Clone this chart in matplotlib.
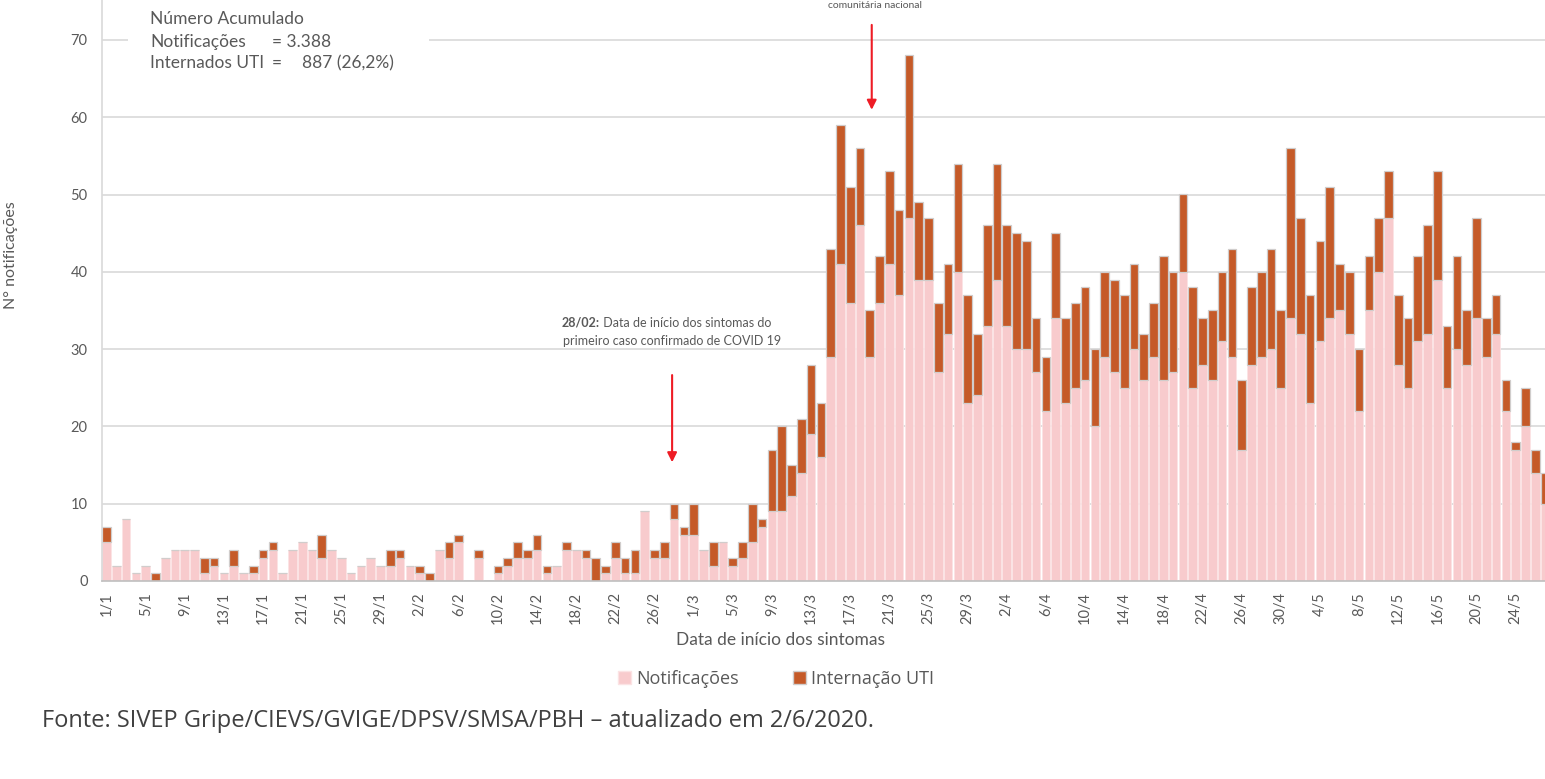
import matplotlib
matplotlib.use("Agg")
import matplotlib.pyplot as plt
from matplotlib.patches import Rectangle, Patch
import pandas as pd

# dates of symptom onset, 1/1 to 27/5/2020
days = pd.date_range("2020-01-01", "2020-05-27")
day_labels = [f"{d.day}/{d.month}" for d in days]

# notifications without ICU (pink part)
notificacoes = [
    # jan
    5, 2, 8, 1, 2, 0, 3, 4, 4, 4, 1, 2, 1, 2, 1, 1, 3, 4, 1, 4, 5, 4, 3, 4, 3, 1, 2, 3, 2, 2, 3,
    # fev
    2, 1, 0, 4, 3, 5, 0, 3, 0, 1, 2, 3, 3, 4, 1, 2, 4, 4, 3, 0, 1, 3, 1, 1, 9, 3, 3, 8, 6,
    # mar
    6, 4, 2, 5, 2, 3, 5, 7, 9, 9, 11, 14, 19, 16, 29, 41, 36, 46, 29, 36, 41, 37, 47, 39, 39, 27, 32, 40, 23, 24, 33,
    # abr
    39, 33, 30, 30, 27, 22, 34, 23, 25, 26, 20, 29, 27, 25, 30, 26, 29, 26, 27, 40, 25, 28, 26, 31, 29, 17, 28, 29, 30, 25,
    # mai
    34, 32, 23, 31, 34, 35, 32, 22, 35, 40, 47, 28, 25, 31, 32, 39, 25, 30, 28, 34, 29, 32, 22, 17, 20, 14, 10,
]

# ICU admissions (dark part)
internacao_uti = [
    # jan
    2, 0, 0, 0, 0, 1, 0, 0, 0, 0, 2, 1, 0, 2, 0, 1, 1, 1, 0, 0, 0, 0, 3, 0, 0, 0, 0, 0, 0, 2, 1,
    # fev
    0, 1, 1, 0, 2, 1, 0, 1, 0, 1, 1, 2, 1, 2, 1, 0, 1, 0, 1, 3, 1, 2, 2, 3, 0, 1, 2, 2, 1,
    # mar
    4, 0, 3, 0, 1, 2, 5, 1, 8, 11, 4, 7, 9, 7, 14, 18, 15, 10, 6, 6, 12, 11, 21, 10, 8, 9, 9, 14, 14, 8, 13,
    # abr
    15, 13, 15, 14, 7, 7, 11, 11, 11, 12, 10, 11, 12, 12, 11, 6, 7, 16, 13, 10, 13, 6, 9, 9, 14, 9, 10, 11, 13, 10,
    # mai
    22, 15, 14, 13, 17, 6, 8, 8, 7, 7, 6, 9, 9, 11, 14, 14, 8, 12, 7, 13, 5, 5, 4, 1, 5, 3, 4,
]

pink = "#f8cbcd"
dark = "#c55a28"
gray = "#595959"

W, H = 1545, 779
fig = plt.figure(figsize=(W / 100, H / 100), dpi=100)
ax = fig.add_axes([101.6 / W, (H - 581) / H, (W - 101.6) / W, 581 / H])

x = list(range(len(days)))
ax.bar(x, notificacoes, width=0.88, color=pink, edgecolor="#fbe3e4", linewidth=0.6, zorder=2)
ax.bar(x, internacao_uti, width=0.88, bottom=notificacoes, color=dark,
       edgecolor="#d0cdcc", linewidth=0.9, zorder=2)

ax.set_xlim(-0.5, 147.0)
ax.set_ylim(0, 581 / 7.73)
ax.set_yticks(range(0, 80, 10))
ax.set_xticks(x[::4])
ax.set_xticklabels(day_labels[::4], rotation=90)
ax.tick_params(length=0, colors=gray, labelsize=10.5, pad=8)
ax.tick_params(axis="y", labelsize=10.5, pad=10)
for lab in ax.get_xticklabels() + ax.get_yticklabels():
    lab.set_fontfamily("Lato")
ax.grid(axis="y", color="#d9d9d9", linewidth=1.2, zorder=0)
ax.set_axisbelow(True)
for s in ["top", "right"]:
    ax.spines[s].set_visible(False)
ax.spines["left"].set_color("#d9d9d9")
ax.spines["bottom"].set_color("#bfbfbf")
ax.spines["left"].set_linewidth(1.2)
ax.spines["bottom"].set_linewidth(1.2)

# white box behind cumulative numbers
ax.add_patch(Rectangle((2.2, 64.8), 30.8, 12, facecolor="white", edgecolor="none", zorder=1))

def px(xp, yp):
    return xp / W, 1 - yp / H

fs = 12.5
fig.text(*px(150, 19), "Número Acumulado", fontsize=fs, color=gray, family="Lato", va="center")
fig.text(*px(150, 42), "Notificações", fontsize=fs, color=gray, family="Lato", va="center")
fig.text(*px(272, 42), "= 3.388", fontsize=fs, color=gray, family="Lato", va="center")
fig.text(*px(150, 63), "Internados UTI", fontsize=fs, color=gray, family="Lato", va="center")
fig.text(*px(272, 63), "=", fontsize=fs, color=gray, family="Lato", va="center")
fig.text(*px(302, 63), "887 (26,2%)", fontsize=fs, color=gray, family="Lato", va="center")

# annotation: first confirmed case
t1 = ax.text(46.5, 32.9, "28/02:", ha="left", va="baseline", fontsize=9,
             color=gray, family="Lato", weight="bold")
ax.annotate(" Data de início dos sintomas do", xy=(1, 0), xycoords=t1, va="bottom",
            fontsize=9, color=gray, family="Lato")
ax.text(57.8, 31.1, "primeiro caso confirmado de COVID 19", ha="center", va="center",
        fontsize=9, color=gray, family="Lato")
ax.annotate("", xy=(57.8, 15.0), xytext=(57.8, 27.0),
            arrowprops=dict(arrowstyle="-|>", color="#ee1c25", lw=1.5, mutation_scale=14))

# annotation: community transmission (top line is cropped in the source)
fig.text(*px(875, 0.5), "comunitária nacional", ha="center", va="top", fontsize=7.5,
         color=gray, family="Lato")
ax.annotate("", xy=(78.2, 60.6), xytext=(78.2, 72.3),
            arrowprops=dict(arrowstyle="-|>", color="#ee1c25", lw=1.5, mutation_scale=14))

fig.text(*px(780, 640), "Data de início dos sintomas", ha="center", va="center",
         fontsize=12.5, color=gray, family="Lato")
fig.text(*px(11, 255), "N° notificações", ha="center", va="center", rotation=90,
         fontsize=11.5, color=gray, family="Lato")

handles = [Patch(facecolor=pink, edgecolor="#fbe3e4", label="Notificações"),
           Patch(facecolor=dark, edgecolor="#d0cdcc", label="Internação UTI")]
fig.legend(handles=handles, loc="center", bbox_to_anchor=(776 / W, 1 - 679 / H), ncol=2,
           frameon=False, prop={"family": "Open Sans", "size": 13}, labelcolor=gray,
           handlelength=0.7, handleheight=0.7, handletextpad=0.3, columnspacing=3.0)

fig.text(*px(42, 721), "Fonte: SIVEP Gripe/CIEVS/GVIGE/DPSV/SMSA/PBH – atualizado em 2/6/2020.",
         ha="left", va="center", fontsize=17, color="#404040", family="Open Sans")

fig.savefig("out.png", dpi=100)
